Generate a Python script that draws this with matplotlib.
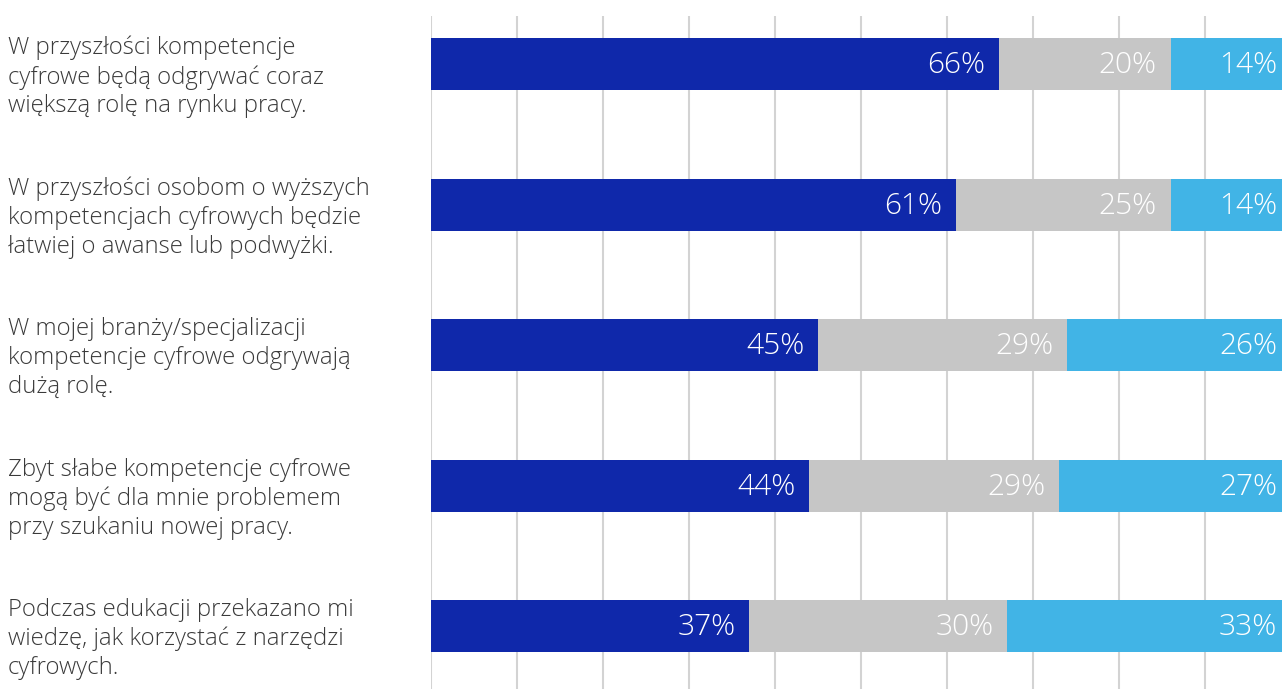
import matplotlib.pyplot as plt
import matplotlib.transforms as mtransforms
import numpy as np

plt.rcParams['font.family'] = ['Open Sans', 'DejaVu Sans']

# statements (left column)
categories = [
    "W przyszłości kompetencje\ncyfrowe będą odgrywać coraz\nwiększą rolę na rynku pracy.",
    "W przyszłości osobom o wyższych\nkompetencjach cyfrowych będzie\nłatwiej o awanse lub podwyżki.",
    "W mojej branży/specjalizacji\nkompetencje cyfrowe odgrywają\ndużą rolę.",
    "Zbyt słabe kompetencje cyfrowe\nmogą być dla mnie problemem\nprzy szukaniu nowej pracy.",
    "Podczas edukacji przekazano mi\nwiedzę, jak korzystać z narzędzi\ncyfrowych.",
]
# three answer groups, in %
seg_dark = [66, 61, 45, 44, 37]
seg_gray = [20, 25, 29, 29, 30]
seg_light = [14, 14, 26, 27, 33]

colors = ['#0F28AA', '#C6C6C6', '#41B4E6']

fig = plt.figure(figsize=(12.82, 6.89), dpi=100)
W, H = 1282, 689
# plot area runs a bit past the right edge of the image (bars get clipped like in the original)
ax = fig.add_axes([431 / W, 0, 860 / W, (H - 16) / H])

y = np.arange(len(categories))
bar_h = 0.37
left = np.zeros(len(categories))
for vals, col in zip([seg_dark, seg_gray, seg_light], colors):
    vals = np.array(vals)
    ax.barh(y, vals, left=left, height=bar_h, color=col, zorder=3)
    for yi, l, v in zip(y, left, vals):
        ax.text(l + v - 1.6, yi + 0.01, f"{v}%", ha='right', va='center',
                color='white', fontsize=21.5, fontweight='light', zorder=4)
    left = left + vals

ax.set_xlim(0, 100)
ax.set_ylim(4.448, -0.342)
ax.set_xticks(np.arange(0, 101, 10))
ax.set_yticks([])
ax.grid(axis='x', color='#D3D3D3', linewidth=1.5, zorder=0)
ax.tick_params(length=0, labelbottom=False)
for s in ax.spines.values():
    s.set_visible(False)

# statement labels on the left
trans = mtransforms.blended_transform_factory(fig.transFigure, ax.transData)
for yi, txt in zip(y, categories):
    ax.text(8 / W, yi + 0.093, txt, transform=trans, ha='left', va='center',
            fontsize=17.2, fontweight='light', color='#3A3A3A',
            linespacing=1.26, clip_on=False)

fig.savefig("out.png", dpi=100)
